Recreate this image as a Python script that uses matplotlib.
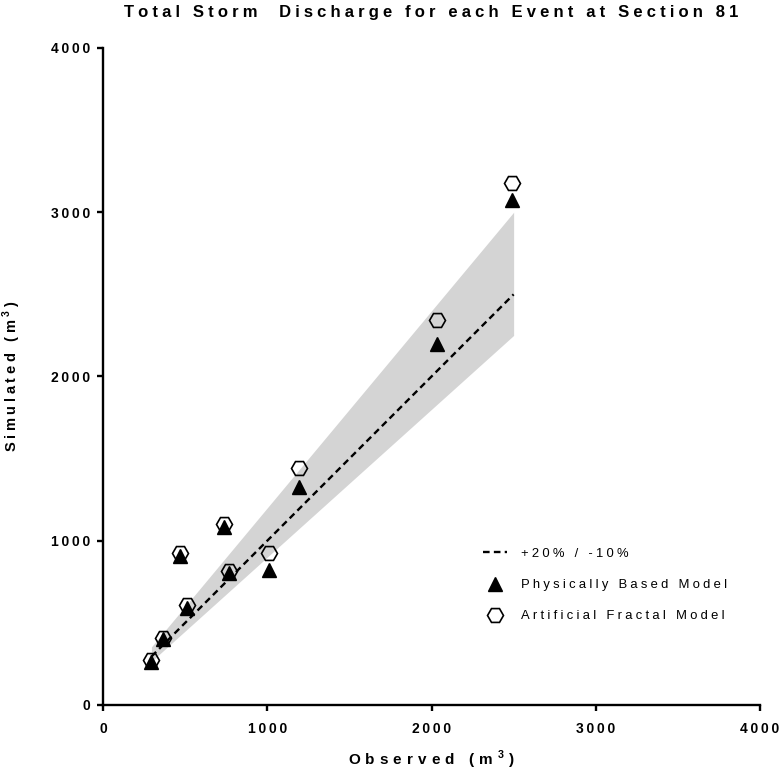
import numpy as np
import matplotlib
matplotlib.use("Agg")
import matplotlib.pyplot as plt
from matplotlib.lines import Line2D

plt.rcParams['font.family'] = ['Liberation Sans', 'DejaVu Sans']
plt.rcParams['mathtext.fontset'] = 'custom'
plt.rcParams['mathtext.rm'] = 'Liberation Sans'
plt.rcParams['mathtext.bf'] = 'Liberation Sans:bold'

# observed vs simulated storm discharge (m3)
observed = [295, 363, 513, 469, 769, 737, 1011, 1195, 2034, 2490]
physical = [264, 400, 588, 907, 806, 1082, 822, 1325, 2198, 3075]
fractal = [272, 410, 608, 925, 816, 1100, 925, 1440, 2344, 3178]

band_x = [295, 2500]
upper_factor = 1.2
lower_factor = 0.9

ticks = [0, 1000, 2000, 3000, 4000]

title = 'Total Storm  Discharge for each Event at Section 81'
xlabel = 'Observed (m'
ylabel = 'Simulated (m'
labels = ['+20% / -10%', 'Physically Based Model', 'Artificial Fractal Model']


def spaced(s, gap):
    # the original uses wide letter spacing (GraphPad style)
    return gap.join(s)


def unit_label(s, gap):
    return spaced(s, gap) + gap + '$^{\\mathbf{3}}$' + gap + ')'


fig = plt.figure(figsize=(7.82, 7.79), dpi=100)
ax = fig.add_axes([0.1317, 0.095, 0.8402, 0.8434])

dash = (0, (2.8, 1.8))
bx = np.array(band_x)
ax.fill_between(bx, bx * lower_factor, bx * upper_factor, color='#d4d4d4', lw=0, zorder=1)
ax.plot(bx, bx, ls=dash, color='black', lw=1.7, zorder=2)

ax.plot(observed, physical, ls='none', marker='^', ms=10, color='black', zorder=4)
ax.plot(observed, fractal, ls='none', marker='H', ms=11.5, mfc='none', mec='black',
        mew=1.2, zorder=3)

ax.set_xlim(0, 4000)
ax.set_ylim(0, 4000)
ax.set_xticks(ticks)
ax.set_yticks(ticks)
ax.set_xticklabels([spaced(str(t), '\u2009') for t in ticks])
ax.set_yticklabels([spaced(str(t), '\u2009') for t in ticks])
for s in ['top', 'right']:
    ax.spines[s].set_visible(False)
for s in ['left', 'bottom']:
    ax.spines[s].set_linewidth(1.7)
ax.tick_params(width=1.7, length=4.5, labelsize=10)
ax.tick_params(axis='x', pad=8)
ax.tick_params(axis='y', pad=5)
for lab in ax.get_xticklabels() + ax.get_yticklabels():
    lab.set_fontweight('bold')

ax.set_xlabel(unit_label(xlabel, '\u2004'), fontsize=11, fontweight='bold')
ax.set_ylabel(unit_label(ylabel, '\u2005'), fontsize=10.5, fontweight='bold')
ax.xaxis.set_label_coords(0.5, -0.066)
ax.yaxis.set_label_coords(-0.122, 0.5)

fig.text(0.551, 0.993, spaced(title, '\u2005'), ha='center', va='top',
         fontsize=12, fontweight='bold')

handles = [
    Line2D([], [], ls=dash, color='black', lw=1.7),
    Line2D([], [], ls='none', marker='^', ms=10, color='black'),
    Line2D([], [], ls='none', marker='H', ms=11.5, mfc='none', mec='black', mew=1.2),
]
ax.legend(handles, [spaced(l, '\u2005') for l in labels], loc='upper left',
          bbox_to_anchor=(0.56, 0.257), frameon=False, fontsize=9.4,
          handlelength=1.9, labelspacing=1.45, handletextpad=1.0)

fig.savefig('out.png', dpi=100)
